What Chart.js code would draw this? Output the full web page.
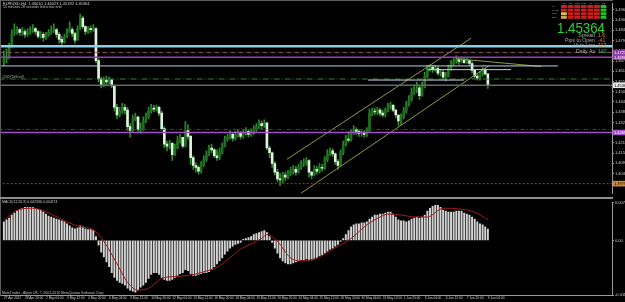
<!DOCTYPE html>
<html>
<head>
<meta charset="utf-8">
<title>EURUSD,H4</title>
<script src="https://cdn.jsdelivr.net/npm/chart.js@4.4.1/dist/chart.umd.min.js"></script>
<style>
  html, body { margin: 0; padding: 0; background: #000; overflow: hidden; }
  #wrap { position: relative; width: 625px; height: 302px; background: #000; }
  canvas { position: absolute; left: 0; }
  #price { top: 0; }
  #sep { position: absolute; left: 0; top: 197px; width: 613px; height: 2px; background: #8e8e8e; }
  #macd { top: 199px; }
</style>
</head>
<body>
<div id="wrap">
  <canvas id="price" width="625" height="197"></canvas>
  <div id="sep"></div>
  <canvas id="macd" width="625" height="103"></canvas>
</div>
<script>
// H4 bars, 27 Apr 2011 12:00 .. 9 Jun 2011 04:00 (one label every 8 bars)
const dateLabels = ['27 Apr 2011', '28 Apr 20:00', '2 May 04:00', '3 May 12:00', '4 May 20:00', '6 May 04:00',
  '9 May 12:00', '10 May 20:00', '12 May 04:00', '13 May 12:00', '16 May 20:00', '18 May 04:00',
  '19 May 12:00', '20 May 20:00', '24 May 04:00', '25 May 12:00', '26 May 20:00', '30 May 04:00',
  '31 May 12:00', '1 Jun 20:00', '3 Jun 04:00', '6 Jun 12:00', '7 Jun 20:00', '9 Jun 04:00'];

const firstOpen = 1.4665;
const closes = [
  1.4687,1.4698,1.4759,1.4830,1.4841,1.4852,1.4836,1.4841,1.4825,1.4836,
  1.4847,1.4858,1.4841,1.4814,1.4825,1.4808,1.4819,1.4836,1.4847,1.4852,
  1.4825,1.4797,1.4781,1.4808,1.4841,1.4852,1.4830,1.4792,1.4858,1.4918,
  1.4869,1.4841,1.4858,1.4852,1.4858,1.4676,1.4572,1.4539,1.4566,1.4555,
  1.4566,1.4533,1.4412,1.4368,1.4390,1.4412,1.4396,1.4302,1.4280,1.4346,
  1.4357,1.4286,1.4291,1.4335,1.4357,1.4390,1.4407,1.4401,1.4412,1.4379,
  1.4291,1.4203,1.4192,1.4209,1.4143,1.4181,1.4220,1.4242,1.4192,1.4280,
  1.4247,1.4126,1.4082,1.4071,1.4049,1.4088,1.4115,1.4143,1.4181,1.4170,
  1.4137,1.4126,1.4159,1.4192,1.4231,1.4242,1.4258,1.4236,1.4253,1.4264,
  1.4247,1.4264,1.4275,1.4258,1.4269,1.4286,1.4302,1.4319,1.4308,1.4324,
  1.4181,1.4154,1.4093,1.4044,1.4005,1.4000,1.4027,1.4016,1.4038,1.4049,
  1.4060,1.4044,1.4071,1.4093,1.4099,1.4110,1.4044,1.4027,1.4060,1.4049,
  1.4071,1.4066,1.4115,1.4148,1.4165,1.4148,1.4104,1.4082,1.4154,1.4203,
  1.4231,1.4225,1.4264,1.4286,1.4275,1.4264,1.4269,1.4258,1.4280,1.4379,
  1.4390,1.4385,1.4396,1.4379,1.4368,1.4390,1.4418,1.4423,1.4396,1.4368,
  1.4335,1.4357,1.4390,1.4429,1.4456,1.4495,1.4511,1.4522,1.4478,1.4528,
  1.4588,1.4632,1.4638,1.4627,1.4632,1.4605,1.4610,1.4583,1.4588,1.4632,
  1.4660,1.4676,1.4682,1.4671,1.4682,1.4665,1.4676,1.4660,1.4621,1.4588,
  1.4577,1.4599,1.4621,1.4601,1.45364];
const highs = [
  1.4731,1.4742,1.4775,1.4852,1.4885,1.4869,1.4858,1.4863,1.4852,1.4858,
  1.4869,1.4880,1.4863,1.4847,1.4841,1.4836,1.4836,1.4852,1.4874,1.4885,
  1.4858,1.4836,1.4814,1.4825,1.4858,1.4896,1.4863,1.4836,1.4874,1.4940,
  1.4929,1.4874,1.4869,1.4874,1.4880,1.4863,1.4687,1.4583,1.4583,1.4588,
  1.4583,1.4572,1.4539,1.4429,1.4412,1.4434,1.4429,1.4412,1.4319,1.4368,
  1.4379,1.4346,1.4324,1.4357,1.4379,1.4412,1.4429,1.4423,1.4423,1.4418,
  1.4390,1.4302,1.4220,1.4225,1.4203,1.4203,1.4247,1.4258,1.4242,1.4330,
  1.4313,1.4253,1.4137,1.4099,1.4082,1.4104,1.4137,1.4165,1.4198,1.4203,
  1.4181,1.4170,1.4181,1.4209,1.4247,1.4258,1.4280,1.4269,1.4275,1.4286,
  1.4275,1.4286,1.4297,1.4286,1.4291,1.4308,1.4319,1.4341,1.4335,1.4341,
  1.4302,1.4192,1.4159,1.4104,1.4060,1.4038,1.4044,1.4044,1.4055,1.4071,
  1.4082,1.4077,1.4088,1.4110,1.4121,1.4126,1.4115,1.4049,1.4082,1.4077,
  1.4093,1.4088,1.4132,1.4170,1.4181,1.4176,1.4154,1.4115,1.4170,1.4220,
  1.4253,1.4275,1.4286,1.4308,1.4297,1.4286,1.4280,1.4280,1.4297,1.4401,
  1.4407,1.4407,1.4412,1.4407,1.4396,1.4407,1.4434,1.4440,1.4429,1.4401,
  1.4368,1.4374,1.4412,1.4445,1.4478,1.4522,1.4533,1.4555,1.4533,1.4555,
  1.4610,1.4649,1.4654,1.4649,1.4649,1.4643,1.4627,1.4621,1.4610,1.4649,
  1.4676,1.4693,1.4704,1.4693,1.4698,1.4693,1.4693,1.4682,1.4671,1.4627,
  1.4605,1.4616,1.4638,1.4632,1.46023];
const lows = [
  1.4649,1.4665,1.4687,1.4753,1.4819,1.4825,1.4819,1.4819,1.4808,1.4814,
  1.4825,1.4836,1.4825,1.4803,1.4803,1.4786,1.4797,1.4814,1.4825,1.4836,
  1.4808,1.4775,1.4764,1.4775,1.4808,1.4836,1.4814,1.4775,1.4825,1.4852,
  1.4858,1.4825,1.4830,1.4836,1.4841,1.4665,1.4555,1.4522,1.4528,1.4533,
  1.4544,1.4522,1.4390,1.4346,1.4357,1.4379,1.4374,1.4280,1.4242,1.4269,
  1.4335,1.4275,1.4264,1.4280,1.4324,1.4346,1.4379,1.4385,1.4390,1.4363,
  1.4280,1.4181,1.4165,1.4176,1.4110,1.4137,1.4176,1.4209,1.4181,1.4187,
  1.4231,1.4088,1.4060,1.4044,1.4033,1.4038,1.4077,1.4104,1.4137,1.4154,
  1.4126,1.4110,1.4115,1.4148,1.4187,1.4220,1.4231,1.4220,1.4225,1.4242,
  1.4231,1.4236,1.4253,1.4242,1.4247,1.4258,1.4275,1.4291,1.4291,1.4297,
  1.4170,1.4126,1.4071,1.4027,1.3989,1.3967,1.3983,1.3994,1.4005,1.4022,
  1.4033,1.4027,1.4038,1.4060,1.4077,1.4082,1.4016,1.4005,1.4022,1.4033,
  1.4038,1.4049,1.4060,1.4104,1.4137,1.4132,1.4088,1.4060,1.4077,1.4143,
  1.4192,1.4214,1.4220,1.4258,1.4258,1.4247,1.4247,1.4242,1.4247,1.4275,
  1.4363,1.4368,1.4368,1.4363,1.4357,1.4357,1.4385,1.4401,1.4385,1.4352,
  1.4308,1.4313,1.4346,1.4379,1.4418,1.4445,1.4484,1.4495,1.4456,1.4473,
  1.4522,1.4577,1.4616,1.4610,1.4616,1.4594,1.4588,1.4572,1.4561,1.4583,
  1.4621,1.4649,1.4660,1.4654,1.4665,1.4660,1.4660,1.4649,1.4605,1.4577,
  1.4566,1.4566,1.4588,1.4594,1.45182];

// MACD(12,26,9): main line (histogram) per bar, signal read at a few bars
const macdMain = [
  0.0038,0.0042,0.0046,0.0052,0.0056,0.0060,0.0064,0.0066,0.0068,0.0068,
  0.0068,0.0068,0.0066,0.0064,0.0062,0.0058,0.0054,0.0050,0.0048,0.0046,
  0.0044,0.0042,0.0040,0.0038,0.0034,0.0030,0.0026,0.0024,0.0026,0.0030,
  0.0028,0.0024,0.0022,0.0022,0.0020,0.0008,-0.0010,-0.0024,-0.0034,-0.0044,
  -0.0054,-0.0066,-0.0076,-0.0082,-0.0086,-0.0088,-0.0092,-0.0098,-0.0102,-0.0104,
  -0.0106,-0.0102,-0.0096,-0.0092,-0.0086,-0.0078,-0.0070,-0.0066,-0.0066,-0.0070,
  -0.0076,-0.0080,-0.0082,-0.0082,-0.0080,-0.0076,-0.0072,-0.0068,-0.0066,-0.0060,
  -0.0062,-0.0068,-0.0072,-0.0072,-0.0070,-0.0068,-0.0066,-0.0066,-0.0064,-0.0060,
  -0.0054,-0.0048,-0.0042,-0.0036,-0.0028,-0.0022,-0.0016,-0.0012,-0.0008,-0.0006,
  -0.0004,0.0002,0.0004,0.0006,0.0008,0.0012,0.0014,0.0016,0.0018,0.0020,
  0.0016,0.0008,-0.0004,-0.0016,-0.0026,-0.0036,-0.0042,-0.0046,-0.0048,-0.0048,
  -0.0046,-0.0044,-0.0042,-0.0040,-0.0040,-0.0038,-0.0040,-0.0040,-0.0038,-0.0036,
  -0.0032,-0.0030,-0.0026,-0.0022,-0.0018,-0.0016,-0.0012,-0.0008,-0.0002,0.0004,
  0.0012,0.0020,0.0028,0.0032,0.0034,0.0034,0.0036,0.0036,0.0038,0.0044,
  0.0048,0.0052,0.0052,0.0054,0.0054,0.0056,0.0058,0.0058,0.0054,0.0048,
  0.0042,0.0040,0.0040,0.0038,0.0040,0.0044,0.0046,0.0048,0.0046,0.0048,
  0.0052,0.0060,0.0066,0.0070,0.0072,0.0072,0.0068,0.0062,0.0060,0.0058,
  0.0058,0.0058,0.0060,0.0060,0.0060,0.0056,0.0054,0.0052,0.0048,0.0044,
  0.0038,0.0034,0.0032,0.0028,0.002336];
const signalBars = [0, 6, 11, 18, 24, 29, 34, 38, 43, 47, 51, 55, 60, 65, 70, 75, 82, 90, 98, 100,
  104, 109, 113, 119, 125, 132, 138, 143, 146, 151, 157, 161, 167, 174, 179, 184];
const signalVals = [0.0042, 0.0064, 0.0066, 0.0054, 0.0038, 0.0028, 0.0022, -0.0002, -0.0048, -0.0086,
  -0.0102, -0.0098, -0.0078, -0.0074, -0.0072, -0.0066, -0.0052, -0.0018, 0.0004, 0.0012,
  -0.0002, -0.0036, -0.0042, -0.0036, -0.0018, 0.0004, 0.0032, 0.0048, 0.0054, 0.0052,
  0.0048, 0.0048, 0.0066, 0.0064, 0.0058, 0.004274];

const priceTicks = [1.3978, 1.4036, 1.4094, 1.4152, 1.4210, 1.4268, 1.4326, 1.4384, 1.4442,
  1.4500, 1.4558, 1.4616, 1.4674, 1.4732, 1.4790, 1.4848, 1.4906, 1.4964];
const macdTicks = [0.0078, 0, -0.0112];

// horizontal objects: price, first bar, last bar
const levelPrices = [1.4758, 1.4723, 1.4696, 1.4646, 1.4625, 1.4566, 1.4572, 1.45364, 1.4286, 1.4269, 1.3979];
const levelFrom   = [-2, -2, -2, -2, 161, 138.4, -2, -2, -2, -2, -2];
const levelTo     = [240, 240, 240, 210.6, 192.8, 174.9, 240, 240, 240, 240, 240];
// channel / trend lines: [bar, price] end points
const channelUpper = [[107.6, 1.4117], [177.6, 1.4803]];
const channelLower = [[112.9, 1.3924], [184.4, 1.4648]];
const trendTop = [[171.9, 1.4687], [204.2, 1.4643]];

const levelStyle = [
  ['#8ccfe8', 2.5, []], ['#94505e', 1, [5, 3]], ['#9a3cb4', 1.5, []], ['#b4d4ec', 1, []],
  ['#c8ccdc', 1, []], ['#c8d0e0', 1, []], ['#3a7a3a', 1, [6, 2, 1, 2]], ['#666666', 1.5, []],
  ['#7a2c2c', 1, [4, 2, 1, 2]], ['#a050c8', 1.5, []], ['#8b4a20', 1, [2, 2]]];
const axisTags = [[1.4723, '#8a3a9a', '#fff'], [1.4696, '#9a3cb4', '#fff'], [1.45364, '#e8e8e8', '#000'],
  [1.4269, '#a050c8', '#fff'], [1.3979, '#d88a30', '#000']];

const X_MIN = -1.1, X_MAX = 231.2;
const FONT = '"Liberation Sans", Arial, sans-serif';

const opens = [firstOpen].concat(closes.slice(0, -1));
const wickData = closes.map((c, i) => ({ x: i, y: [Math.min(lows[i], opens[i], c), Math.max(highs[i], opens[i], c)] }));
const bodyData = closes.map((c, i) => ({ x: i, y: [opens[i], c] }));
const bodyColors = closes.map((c, i) => c >= opens[i] ? '#1d701d' : '#dcf4dc');

const lineDatasets = levelPrices.map((p, k) => ({
  type: 'line',
  data: [{ x: levelFrom[k], y: p }, { x: levelTo[k], y: p }],
  borderColor: levelStyle[k][0], borderWidth: levelStyle[k][1], borderDash: levelStyle[k][2],
  pointRadius: 0, order: 0
}));
[channelUpper, channelLower, trendTop].forEach(seg => {
  lineDatasets.push({
    type: 'line', data: seg.map(p => ({ x: p[0], y: p[1] })),
    borderColor: '#8b9a46', borderWidth: 1, pointRadius: 0, order: 0
  });
});

function txt(ctx, s, x, y, size, color, align) {
  ctx.font = size + 'px ' + FONT;
  ctx.fillStyle = color;
  ctx.textAlign = align || 'left';
  ctx.textBaseline = 'middle';
  ctx.fillText(s, x, y);
}

const priceOverlay = {
  id: 'priceOverlay',
  afterDraw(chart) {
    const ctx = chart.ctx, ys = chart.scales.y;
    ctx.save();
    ctx.fillStyle = '#5e5e5e';
    ctx.fillRect(0, 0, 613, 1);
    ctx.fillRect(0, 0, 1, 197);

    txt(ctx, 'EURUSD,H4  1.46010 1.46023 1.45182 1.45364', 3, 3.5, 4, '#d0d0d0');
    txt(ctx, '55 minutes 28 seconds left to bar end', 3, 7, 3.5, '#c0c0c0');
    txt(ctx, '#2027566 sell', 2, 77, 3.5, '#b0b0b0');

    // signal table
    const cols = ['M1', 'M5', 'M15', 'M30', 'H1', 'H4', 'D1'];
    const rowNames = ['MA', 'MACD', 'STR', 'EMA'];
    const cells = [
      ['#c81e1e', '#c81e1e', '#c81e1e', '#c81e1e', '#c81e1e', '#c81e1e', '#22c022'],
      ['#c81e1e', '#c81e1e', '#c81e1e', '#c81e1e', '#c81e1e', '#c81e1e', '#22c022'],
      ['#d8c040', '#c81e1e', '#c81e1e', '#c81e1e', '#c81e1e', '#c81e1e', '#22c022'],
      ['#d8a050', '#c81e1e', '#c81e1e', '#c81e1e', '#c81e1e', '#c81e1e', '#22c022']];
    cols.forEach((c, j) => txt(ctx, c, 564 + j * 6.6, 3, 2.5, '#b0b0b0', 'center'));
    cells.forEach((row, r) => {
      txt(ctx, rowNames[r], 552, 6.5 + r * 3.6, 2.5, '#a0a0a0');
      row.forEach((col, j) => {
        ctx.fillStyle = col;
        ctx.fillRect(561 + j * 6.6, 5 + r * 3.6, 5.8, 3);
      });
    });

    // big bid
    ctx.font = '15px ' + FONT;
    const w = ctx.measureText('1.45364').width;
    ctx.save();
    ctx.translate(557, 28.5);
    ctx.scale(48 / w, 1);
    txt(ctx, '1.45364', 0, 0, 15, '#30d030');
    ctx.restore();

    const stats = [['Spread', '1.6', '#e08a2a'], ['Pips to Open', '-41', '#e0642a'],
      ['Hi to Low', '117', '#d0a040'], ['Daily Av', '142', '#40c040']];
    stats.forEach((s, k) => {
      txt(ctx, s[0], 595, 35.5 + k * 5.2, 5.2, '#a8a8a8', 'right');
      txt(ctx, s[1], 598, 35.5 + k * 5.2, 5.2, s[2]);
    });

    // price tags on the axis
    axisTags.forEach(t => {
      const py = ys.getPixelForValue(t[0]);
      ctx.fillStyle = t[1];
      ctx.fillRect(613, py - 2.8, 12, 5.6);
      txt(ctx, t[0].toFixed(5), 614, py + 0.3, 4, t[2]);
    });
    ctx.restore();
  }
};

new Chart(document.getElementById('price'), {
  type: 'bar',
  data: {
    datasets: lineDatasets.concat([
      { data: bodyData, backgroundColor: bodyColors, barThickness: 2, minBarLength: 1, grouped: false, order: 1 },
      { data: wickData, backgroundColor: '#2f8a2f', barThickness: 1, grouped: false, order: 2 }
    ])
  },
  options: {
    animation: false, responsive: false,
    layout: { padding: { top: 1, left: 1, right: 0, bottom: 0 } },
    plugins: { legend: { display: false }, tooltip: { enabled: false } },
    scales: {
      x: { type: 'linear', min: X_MIN, max: X_MAX, offset: false, display: false },
      y: {
        position: 'right', min: 1.39225, max: 1.50005, beginAtZero: false,
        afterFit(s) { s.width = 13; },
        afterBuildTicks(s) { s.ticks = priceTicks.map(v => ({ value: v })); },
        ticks: { font: { size: 4, family: FONT }, color: '#d0d0d0', padding: 1, callback: v => v.toFixed(5) },
        grid: { drawOnChartArea: false, color: '#9a9a9a', tickLength: 2 },
        border: { color: '#9a9a9a' }
      }
    }
  },
  plugins: [priceOverlay]
});

const macdOverlay = {
  id: 'macdOverlay',
  afterDraw(chart) {
    const ctx = chart.ctx;
    ctx.save();
    ctx.fillStyle = '#5e5e5e';
    ctx.fillRect(0, 0, 1, 97);
    txt(ctx, 'MACD(12,26,9) 0.002336 0.004274', 2, 3, 3.5, '#c8c8c8');
    txt(ctx, 'MetaTrader - Alpari UK, \u00a9 2001-2010 MetaQuotes Software Corp.', 2, 94, 3.5, '#c0c0c0');
    ctx.restore();
  }
};

new Chart(document.getElementById('macd'), {
  type: 'bar',
  data: {
    datasets: [
      {
        type: 'line', data: signalBars.map((b, k) => ({ x: b, y: signalVals[k] })),
        borderColor: '#a01a1a', borderWidth: 1, pointRadius: 0, cubicInterpolationMode: 'monotone', order: 0
      },
      {
        data: macdMain.map((v, i) => ({ x: i, y: v })),
        backgroundColor: '#d4d4d4', barThickness: 1.3, grouped: false, order: 1
      }
    ]
  },
  options: {
    animation: false, responsive: false,
    layout: { padding: { top: 1, left: 1, right: 0, bottom: 0 } },
    plugins: { legend: { display: false }, tooltip: { enabled: false } },
    scales: {
      x: {
        type: 'linear', min: X_MIN, max: X_MAX, offset: false,
        afterFit(s) { s.height = 7; },
        afterBuildTicks(s) { s.ticks = dateLabels.map((_, k) => ({ value: k * 8 })); },
        ticks: {
          autoSkip: false, maxRotation: 0, align: 'start', padding: 0,
          font: { size: 3.2, family: FONT }, color: '#d0d0d0',
          callback: v => dateLabels[Math.round(v / 8)]
        },
        grid: { drawOnChartArea: false, color: '#9a9a9a', tickLength: 1 },
        border: { color: '#9a9a9a' }
      },
      y: {
        position: 'right', min: -0.0112, max: 0.0078, beginAtZero: false,
        afterFit(s) { s.width = 13; },
        afterBuildTicks(s) { s.ticks = macdTicks.map(v => ({ value: v })); },
        ticks: { font: { size: 4, family: FONT }, color: '#d0d0d0', padding: 1,
          callback: v => v === 0 ? '0.00' : v.toFixed(6) },
        grid: { drawOnChartArea: false, color: '#9a9a9a', tickLength: 2 },
        border: { color: '#9a9a9a' }
      }
    }
  },
  plugins: [macdOverlay]
});
</script>
</body>
</html>
